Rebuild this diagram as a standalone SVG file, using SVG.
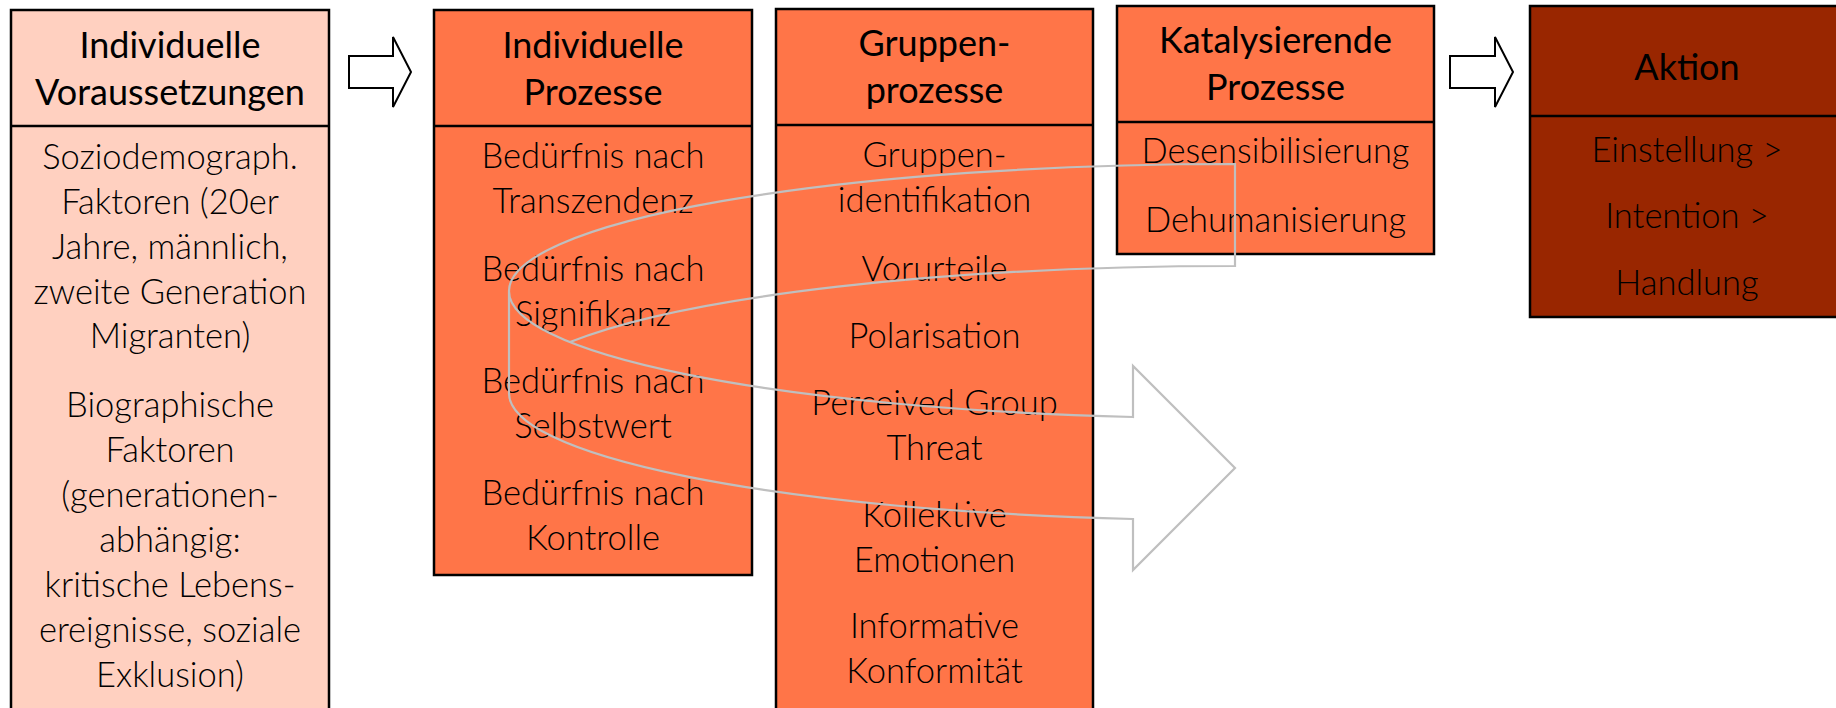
<svg xmlns="http://www.w3.org/2000/svg" width="1836" height="708" viewBox="0 0 1836 708">
<style>
.box{stroke:#000;stroke-width:2.5}
.div{stroke:#000;stroke-width:2.5}
.light{fill:#FFD0C0}
.orange{fill:#FF7548}
.dark{fill:#992600}
text{font-family:Lato,"Open Sans","Liberation Sans",sans-serif;fill:#000;text-anchor:middle}
.h{font-size:36px;font-weight:400}
.b{font-size:34.5px;font-weight:300}
.blk{fill:#fff;stroke:#000;stroke-width:2}
.curve{fill:none;stroke:#BFBFBF;stroke-width:2.2;stroke-linejoin:miter}
</style>
<rect width="1836" height="708" fill="#fff"/>
<g id="node-voraussetzungen">
<rect class="box light" x="11" y="10" width="318" height="720"/>
<line class="div" x1="11" y1="126" x2="329" y2="126"/>
<text class="h" x="170" y="58">Individuelle</text>
<text class="h" x="170" y="105">Voraussetzungen</text>
<text class="b" x="170" y="169">Soziodemograph.</text>
<text class="b" x="170" y="214">Faktoren (20er</text>
<text class="b" x="170" y="259">Jahre, männlich,</text>
<text class="b" x="170" y="304">zweite Generation</text>
<text class="b" x="170" y="348">Migranten)</text>
<text class="b" x="170" y="417">Biographische</text>
<text class="b" x="170" y="462">Faktoren</text>
<text class="b" x="170" y="507">(generationen-</text>
<text class="b" x="170" y="552">abhängig:</text>
<text class="b" x="170" y="597">kritische Lebens-</text>
<text class="b" x="170" y="642">ereignisse, soziale</text>
<text class="b" x="170" y="687">Exklusion)</text>
</g>
<g id="node-individuelle-prozesse">
<rect class="box orange" x="434" y="10" width="318" height="565"/>
<line class="div" x1="434" y1="126" x2="752" y2="126"/>
<text class="h" x="593" y="58">Individuelle</text>
<text class="h" x="593" y="105">Prozesse</text>
<text class="b" x="593" y="168">Bedürfnis nach</text>
<text class="b" x="593" y="213">Transzendenz</text>
<text class="b" x="593" y="281">Bedürfnis nach</text>
<text class="b" x="593" y="326">Signifikanz</text>
<text class="b" x="593" y="393">Bedürfnis nach</text>
<text class="b" x="593" y="438">Selbstwert</text>
<text class="b" x="593" y="505">Bedürfnis nach</text>
<text class="b" x="593" y="550">Kontrolle</text>
</g>
<g id="node-gruppenprozesse">
<rect class="box orange" x="776" y="9" width="317" height="720"/>
<line class="div" x1="776" y1="125" x2="1093" y2="125"/>
<text class="h" x="934.5" y="56">Gruppen-</text>
<text class="h" x="934.5" y="103">prozesse</text>
<text class="b" x="934.5" y="167">Gruppen-</text>
<text class="b" x="934.5" y="212">identifikation</text>
<text class="b" x="934.5" y="281">Vorurteile</text>
<text class="b" x="934.5" y="348">Polarisation</text>
<text class="b" x="934.5" y="415">Perceived Group</text>
<text class="b" x="934.5" y="460">Threat</text>
<text class="b" x="934.5" y="527">Kollektive</text>
<text class="b" x="934.5" y="572">Emotionen</text>
<text class="b" x="934.5" y="638">Informative</text>
<text class="b" x="934.5" y="683">Konformität</text>
</g>
<g id="node-katalysierende-prozesse">
<rect class="box orange" x="1117" y="6" width="317" height="248"/>
<line class="div" x1="1117" y1="122" x2="1434" y2="122"/>
<text class="h" x="1275.5" y="53">Katalysierende</text>
<text class="h" x="1275.5" y="100">Prozesse</text>
<text class="b" x="1275.5" y="163">Desensibilisierung</text>
<text class="b" x="1275.5" y="232">Dehumanisierung</text>
</g>
<g id="node-aktion">
<rect class="box dark" x="1530" y="6" width="330" height="311"/>
<line class="div" x1="1530" y1="116" x2="1860" y2="116"/>
<text class="h" x="1687" y="80">Aktion</text>
<text class="b" x="1687" y="162">Einstellung &gt;</text>
<text class="b" x="1687" y="228">Intention &gt;</text>
<text class="b" x="1687" y="295">Handlung</text>
</g>
<g id="connectors">
<polygon class="blk" points="349,56 393,56 393,37 411,72 393,107 393,88 349,88"/>
<polygon class="blk" points="1450,56 1495,56 1495,37 1513,72 1495,107 1495,88 1450,88"/>
<path class="curve" d="M509,291 A726,127 0 0 0 1133,417 L1133,366 L1235,468 L1133,570 L1133,519 A726,127 0 0 1 509,393 L509,291 A726,127 0 0 1 1235,164 L1235,266 A726,127 0 0 0 570,342"/>
</g>
</svg>
